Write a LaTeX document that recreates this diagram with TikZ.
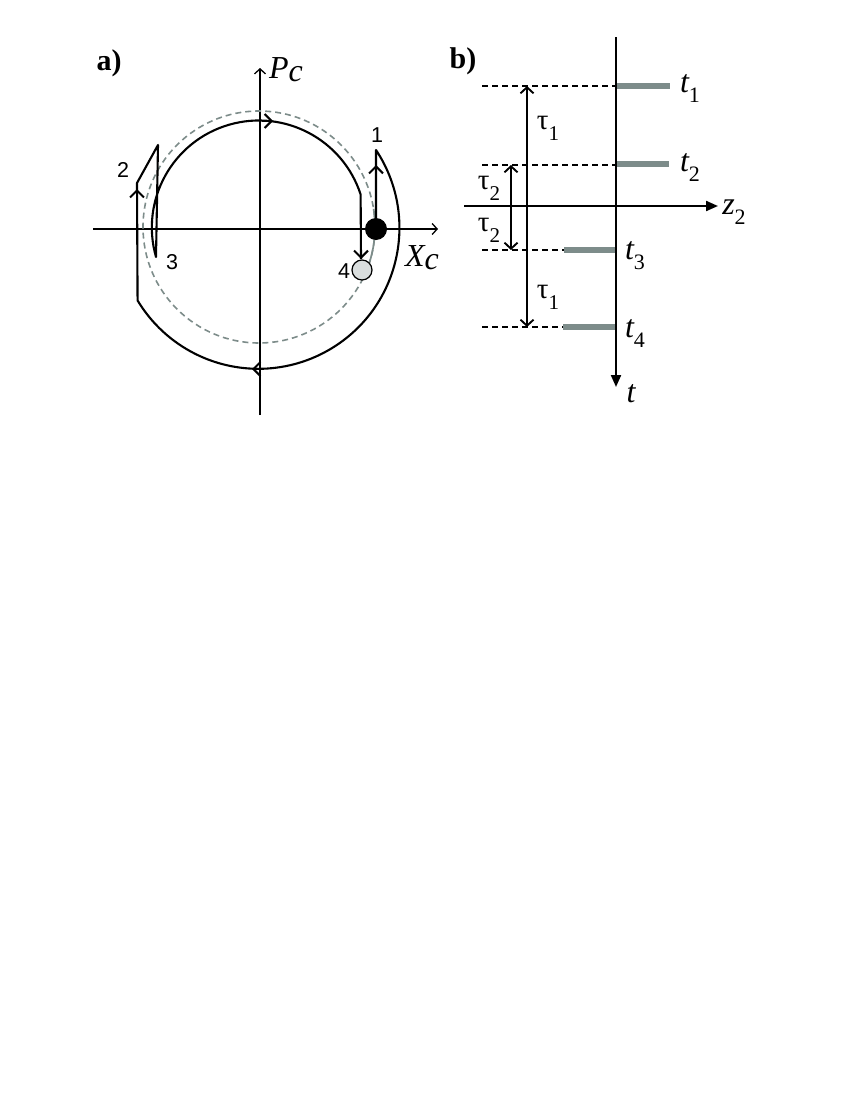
\documentclass[tikz,border=0pt]{standalone}
\usepackage{fontspec}
\setmainfont{Liberation Serif}
\newfontfamily\arialf{Liberation Sans}
\usetikzlibrary{arrows.meta}
\definecolor{gcol}{RGB}{125,140,138}
\definecolor{dotgray}{RGB}{218,222,222}
\newcommand{\tlab}[2]{{\fontsize{32}{32}\selectfont\itshape #1}\raisebox{-10pt}{\fontsize{22}{22}\selectfont #2}}
\newcommand{\taulab}[1]{{\fontsize{29}{29}\selectfont τ}\raisebox{-11pt}{\fontsize{21}{21}\selectfont #1}}
\begin{document}
\begin{tikzpicture}[x=1pt,y=1pt,
  thinax/.style={line width=1.3pt,-{Straight Barb[length=5pt,width=11pt]}},
  traj/.style={line width=2.1pt,line join=round},
  barb/.style={line width=2.1pt,-{Straight Barb[length=7pt,width=14pt]}},
  dbarb/.style={line width=1.9pt,{Straight Barb[length=6pt,width=13pt]}-{Straight Barb[length=6pt,width=13pt]}},
  bax/.style={line width=2.1pt,-{Triangle[length=12pt,width=10pt]}},
  guide/.style={line width=1.3pt,dash pattern=on 6pt off 4pt},
  gbar/.style={line width=5.5pt,gcol},
  num/.style={font=\arialf\fontsize{21.5}{21.5}\selectfont,inner sep=0pt},
  panel/.style={font=\bfseries\fontsize{30}{30}\selectfont,inner sep=0pt}
]
\useasboundingbox (0,0) rectangle (850,-1100);

% ---------- panel a ----------
\node[panel] (la) at (109,-63) {a)};
\draw[thinax] (93,-229) -- (438,-229);
\draw[thinax] (260,-415) -- (260,-68);
\node[inner sep=0pt] (pc) at (286,-70) {\fontsize{32}{32}\selectfont\itshape P\raisebox{-3pt}{c}};
\node[inner sep=0pt] (xc) at (422,-258) {\fontsize{32}{32}\selectfont\itshape X\raisebox{-3pt}{c}};

% reference circle
\draw[gcol,line width=1.6pt,dash pattern=on 6pt off 4pt] (259,-227) circle (116);
\draw[gcol,line width=1.7pt] ([shift={(259,-227)}]-24:116) arc (-24:9:116);

% trajectory
\coordinate (d1) at (376,-229);
\coordinate (p1) at (376,-150);
\coordinate (p2b) at (137,-183);
\coordinate (p2) at (158,-145);
\coordinate (p3) at (156,-257);
\coordinate (d4) at (361,-259);
\draw[traj] (d1) -- (p1) arc (33.5:-149:141) -- (p2b) -- (p2) -- (p3) arc (196:18:107) -- (d4);
% arrow heads along the trajectory
\draw[barb] (376,-180) -- (376,-165);
\draw[barb] (137,-205) -- (137,-189);
\draw[barb] (262,-121) -- (273,-121);
\draw[barb] (264,-369) -- (252,-369);
\draw[barb] (361,-240) -- (361,-259);

\fill[black] (d1) circle (11);
\draw[line width=1.2pt,fill=dotgray] (362,-270) circle (10);

\node[num] (n1) at (377,-135) {1};
\node[num] (n2) at (123,-170) {2};
\node[num] (n3) at (172,-262) {3};
\node[num] (n4) at (344,-271) {4};

% ---------- panel b ----------
\node[panel] (lb) at (463,-61) {b)};
\draw[bax] (616,-37) -- (616,-387);
\draw[bax] (464,-206) -- (718,-206);
\node[inner sep=0pt] (tl) at (631,-394) {\fontsize{32}{32}\selectfont\itshape t};
\node[inner sep=0pt] (zl) at (734,-212) {\tlab{z}{2}};

\draw[guide] (482,-86) -- (616,-86);
\draw[guide] (482,-165) -- (616,-165);
\draw[guide] (482,-250) -- (564,-250);
\draw[guide] (482,-327) -- (564,-327);

\draw[gbar] (617,-86) -- (670,-86);
\draw[gbar] (617,-164) -- (669,-164);
\draw[gbar] (564,-250) -- (615,-250);
\draw[gbar] (563,-327) -- (615,-327);

\node[inner sep=0pt] (t1) at (690,-88) {\tlab{t}{1}};
\node[inner sep=0pt] (t2) at (690,-167) {\tlab{t}{2}};
\node[inner sep=0pt] (t3) at (635,-256) {\tlab{t}{3}};
\node[inner sep=0pt] (t4) at (635,-333) {\tlab{t}{4}};

\draw[dbarb] (527,-86) -- (527,-327);
\draw[dbarb] (511,-165) -- (511,-250);

\node[inner sep=0pt] (ta1) at (548,-128) {\taulab{1}};
\node[inner sep=0pt] (ta2) at (548,-297) {\taulab{1}};
\node[inner sep=0pt] (tb1) at (489,-188) {\taulab{2}};
\node[inner sep=0pt] (tb2) at (489,-230) {\taulab{2}};
\end{tikzpicture}
\end{document}
